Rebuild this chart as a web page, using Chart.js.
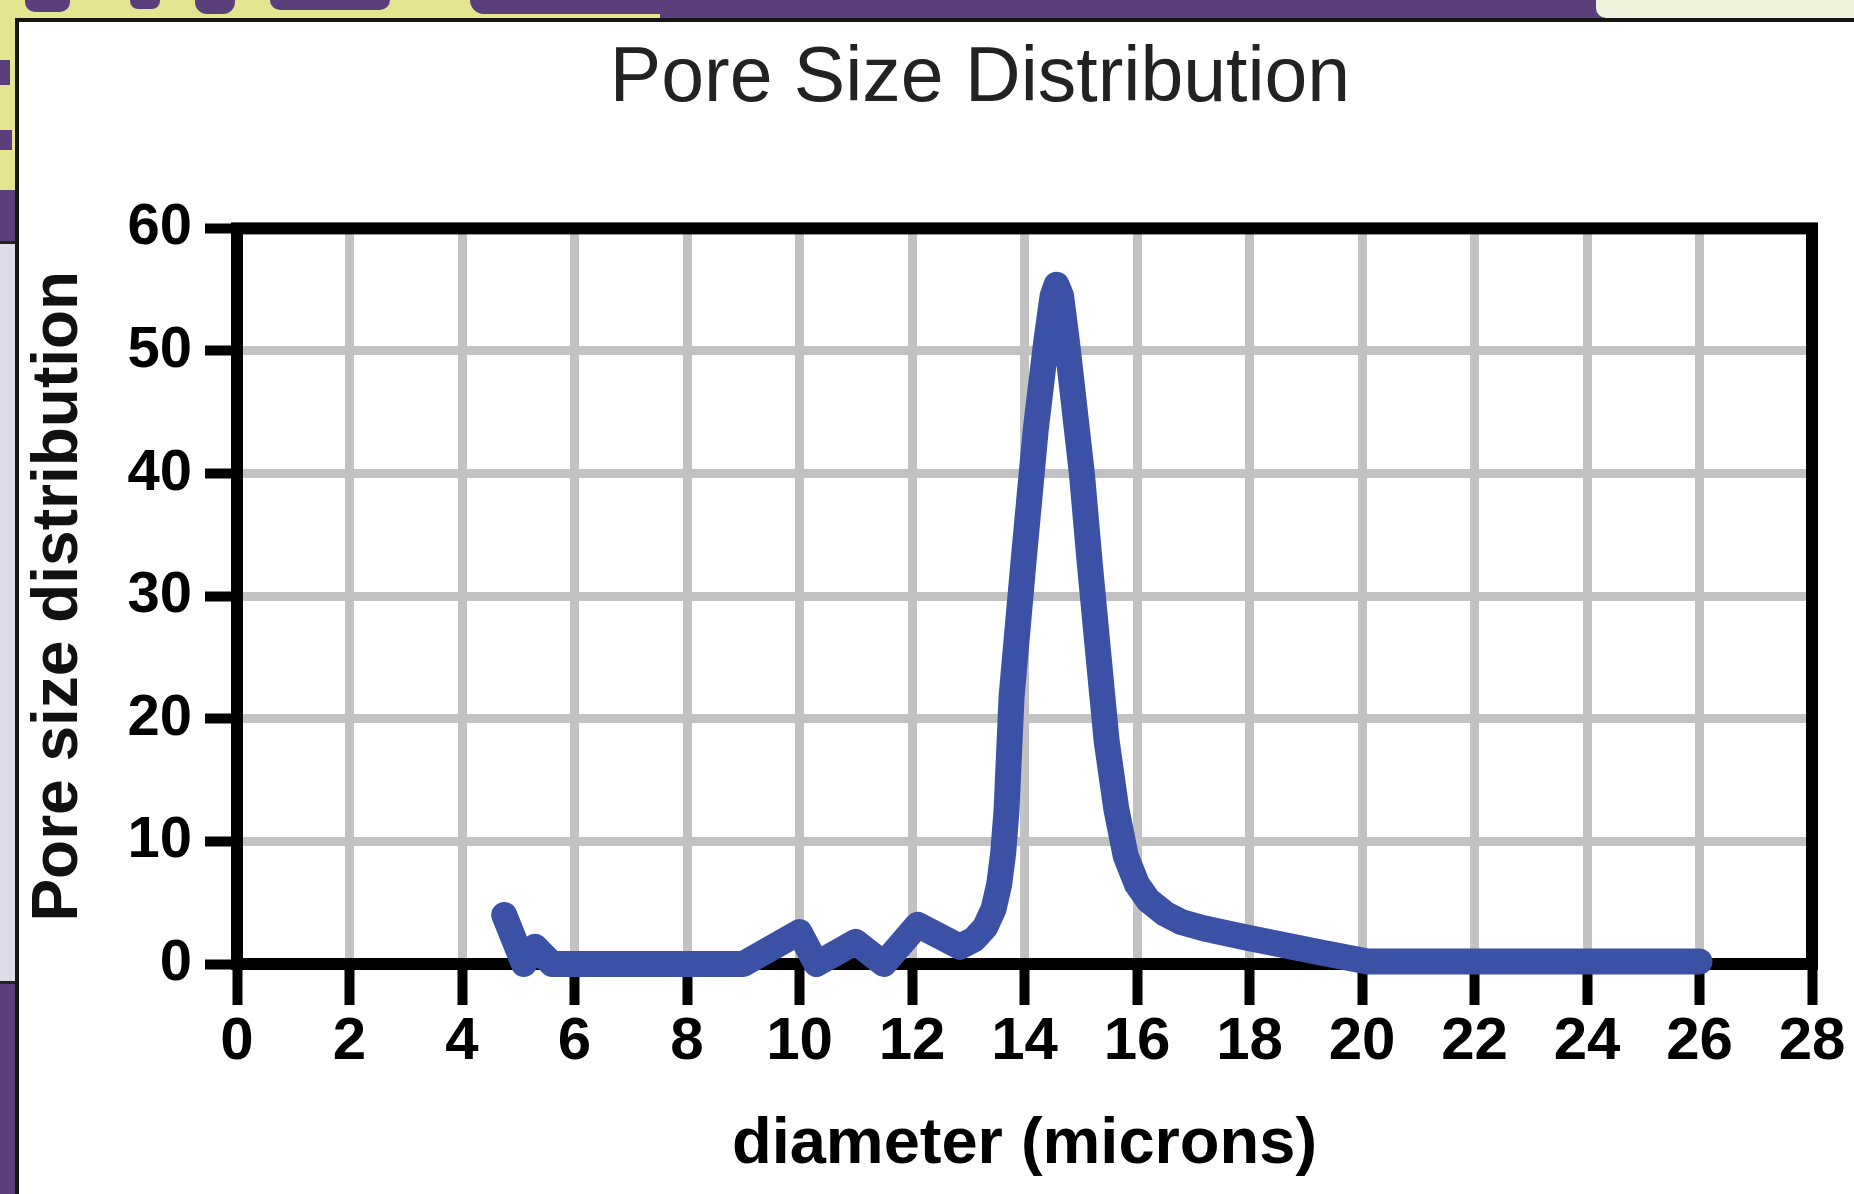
<!DOCTYPE html>
<html><head><meta charset="utf-8">
<script src="https://cdn.jsdelivr.net/npm/chart.js@4.4.1/dist/chart.umd.min.js"></script>
<style>
html,body{margin:0;padding:0;width:1854px;height:1194px;overflow:hidden;background:#5b3f7b;position:relative}
.blk{position:absolute}
#panel{position:absolute;left:15px;top:18px;width:1839px;height:1176px;border-left:4px solid #151515;border-top:4px solid #151515;background:#fff;box-sizing:border-box}
#c{position:absolute;left:0;top:0}
</style></head>
<body>
<div class="blk" style="left:0;top:0;width:660px;height:18px;background:#e3e58f"></div>
<div class="blk" style="left:25px;top:0;width:45px;height:12px;background:#5b3f7b;border-radius:0 0 10px 10px"></div>
<div class="blk" style="left:130px;top:0;width:30px;height:9px;background:#5b3f7b;border-radius:0 0 8px 8px"></div>
<div class="blk" style="left:195px;top:0;width:40px;height:14px;background:#5b3f7b;border-radius:0 0 12px 12px"></div>
<div class="blk" style="left:270px;top:0;width:120px;height:10px;background:#5b3f7b;border-radius:0 0 10px 10px"></div>
<div class="blk" style="left:470px;top:0;width:200px;height:14px;background:#5b3f7b;border-radius:0 0 0 14px"></div>
<div class="blk" style="left:1596px;top:0;width:258px;height:18px;background:#eef1dc;border-radius:0 0 0 10px"></div>
<div class="blk" style="left:0;top:0;width:15px;height:190px;background:#e3e58f"></div>
<div class="blk" style="left:0;top:60px;width:10px;height:25px;background:#5b3f7b"></div>
<div class="blk" style="left:0;top:130px;width:12px;height:20px;background:#5b3f7b"></div>
<div class="blk" style="left:0;top:241px;width:15px;height:737px;background:#dfdce9;border-top:3px solid #222;border-bottom:3px solid #222"></div>
<div id="panel"><canvas id="c" width="1835" height="1172"></canvas></div>
<script>
// ---- data ----
const diameter = [4.75, 5.1, 5.3, 5.6, 9.0, 10.0, 10.3, 11.0, 11.5, 12.1, 12.85, 13.1, 13.3, 13.45, 13.55, 13.62, 13.68, 13.77, 13.98, 14.2, 14.39, 14.5, 14.57, 14.65, 14.75, 14.84, 15.02, 15.16, 15.31, 15.46, 15.63, 15.8, 16.0, 16.2, 16.5, 16.8, 17.2, 17.9, 19.2, 20.1, 26.0];
const distribution = [4.0, 0, 1.4, 0, 0, 2.6, 0, 1.8, 0, 3.2, 1.4, 2.0, 3.0, 4.5, 6.5, 9.0, 12.5, 21.8, 32.7, 43.6, 50.9, 54.5, 55.4, 54.5, 50.9, 47.3, 40.0, 32.7, 25.4, 18.2, 12.7, 8.8, 6.5, 5.2, 4.1, 3.4, 2.9, 2.2, 1.0, 0.2, 0.2];
const xTickValues = [0, 2, 4, 6, 8, 10, 12, 14, 16, 18, 20, 22, 24, 26, 28];
const yTickValues = [0, 10, 20, 30, 40, 50, 60];
const titleText = 'Pore Size Distribution';
const xTitle = 'diameter (microns)';
const yTitle = 'Pore size distribution';

Chart.defaults.font.family = '"Liberation Sans", Arial, Helvetica, sans-serif';
Chart.defaults.color = '#000';

const framePlugin = {
  id: 'frame',
  beforeDatasetsDraw(chart) {
    const {ctx, chartArea: a} = chart;
    ctx.save();
    ctx.strokeStyle = '#000';
    ctx.lineWidth = 12;
    ctx.lineJoin = 'miter';
    ctx.strokeRect(a.left, a.top, a.right - a.left, a.bottom - a.top);
    ctx.restore();
  }
};
// the reference title is centred a bit right of the canvas centre
const titleShift = {
  id: 'titleShift',
  afterLayout(chart) { if (chart.titleBlock) chart.titleBlock.left = 129; }
};

new Chart(document.getElementById('c'), {
  type: 'scatter',
  data: {
    datasets: [{
      data: diameter.map((x, i) => ({x: x, y: distribution[i]})),
      showLine: true,
      borderColor: '#3a51a6',
      backgroundColor: '#3a51a6',
      borderWidth: 26,
      borderCapStyle: 'round',
      borderJoinStyle: 'round',
      pointRadius: 0,
      tension: 0,
      clip: false
    }]
  },
  options: {
    responsive: false,
    animation: false,
    events: [],
    layout: {padding: {left: 0, right: 42, top: 0, bottom: 0}},
    plugins: {
      legend: {display: false},
      tooltip: {enabled: false},
      title: {
        display: true,
        text: titleText,
        color: '#222',
        font: {size: 77, weight: 'normal'},
        padding: {top: 12, bottom: 102}
      }
    },
    scales: {
      x: {
        type: 'linear',
        min: 0, max: 28,
        afterBuildTicks: s => { s.ticks = xTickValues.map(v => ({value: v})); },
        afterFit: s => { s.height = 230; },
        border: {display: false},
        grid: {color: '#c2c2c2', lineWidth: 9, tickColor: '#000', tickWidth: 10, tickLength: 41},
        ticks: {autoSkip: false, maxRotation: 0, padding: 1, color: '#000', font: {size: 60, weight: 'bold'}},
        title: {display: true, text: xTitle, color: '#000', font: {size: 65, weight: 'bold'}, padding: {top: 0, bottom: 10}}
      },
      y: {
        type: 'linear',
        min: 0, max: 60,
        afterBuildTicks: s => { s.ticks = yTickValues.map(v => ({value: v})); },
        afterFit: s => { s.width = 218; },
        border: {display: false},
        grid: {color: '#c2c2c2', lineWidth: 9, tickColor: '#000', tickWidth: 10, tickLength: 32},
        ticks: {autoSkip: false, padding: 13, color: '#000', font: {size: 58, weight: 'bold'}},
        title: {display: true, text: yTitle, color: '#111', font: {size: 64, weight: 'bold'}, padding: {top: 2, bottom: 0}}
      }
    }
  },
  plugins: [framePlugin, titleShift]
});
</script>
</body></html>
